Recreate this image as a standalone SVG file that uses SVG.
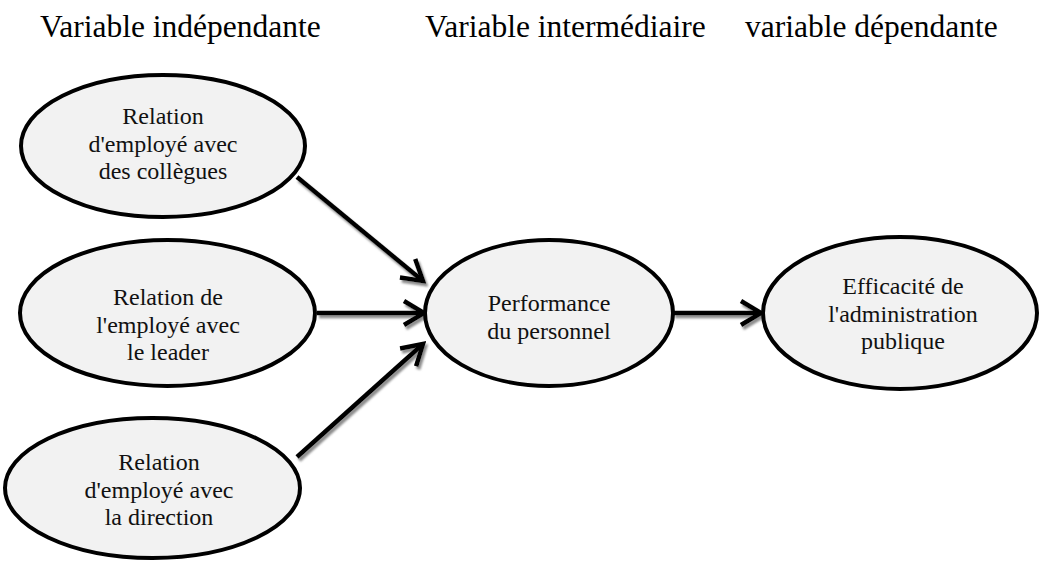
<svg xmlns="http://www.w3.org/2000/svg" width="1041" height="564" viewBox="0 0 1041 564" font-family="'Liberation Serif', serif">
<style>
text{font-family:'Liberation Serif', serif}
.title{font-size:31.5px;fill:#000}
.lbl{font-size:24px;fill:#111;text-anchor:middle}
.node ellipse{fill:#f2f2f2;stroke:#000;stroke-width:4}
.conn{fill:none;stroke:#000;stroke-width:4.5}
</style>
<defs>
<marker id="arr" markerUnits="userSpaceOnUse" viewBox="-24 -16 28 32" refX="0" refY="0" markerWidth="28" markerHeight="32" orient="auto">
<path d="M-20,-12 L0,0 L-20,12" fill="none" stroke="#000" stroke-width="4.5" stroke-linejoin="miter"/>
</marker>
<filter id="sh" x="-20%" y="-20%" width="140%" height="140%">
<feDropShadow dx="2" dy="3" stdDeviation="0.8" flood-color="#7f7f7f" flood-opacity="0.9"/>
</filter>
</defs>
<g id="titles">
<text class="title" font-family="Liberation Serif" x="40" y="37">Variable indépendante</text>
<text class="title" font-family="Liberation Serif" x="425" y="37">Variable intermédiaire</text>
<text class="title" font-family="Liberation Serif" x="745" y="37">variable dépendante</text>
</g>
<g id="connectors" filter="url(#sh)">
<path class="conn" d="M297,177 L423,281" marker-end="url(#arr)"/>
<path class="conn" d="M317,313 L424,313" marker-end="url(#arr)"/>
<path class="conn" d="M297,457 L423,344" marker-end="url(#arr)"/>
<path class="conn" d="M673,313 L761,313" marker-end="url(#arr)"/>
</g>
<g id="n1" class="node">
<ellipse cx="163" cy="146" rx="142" ry="71"/>
<text class="lbl" font-family="Liberation Serif" x="163" y="124">Relation</text>
<text class="lbl" font-family="Liberation Serif" x="163" y="151.5">d'employé avec</text>
<text class="lbl" font-family="Liberation Serif" x="163" y="179">des collègues</text>
</g>
<g id="n2" class="node">
<ellipse cx="167.5" cy="313" rx="147.5" ry="73"/>
<text class="lbl" font-family="Liberation Serif" x="168" y="305">Relation de</text>
<text class="lbl" font-family="Liberation Serif" x="168" y="332.5">l'employé avec</text>
<text class="lbl" font-family="Liberation Serif" x="168" y="360">le leader</text>
</g>
<g id="n3" class="node">
<ellipse cx="152.5" cy="488" rx="147.5" ry="70"/>
<text class="lbl" font-family="Liberation Serif" x="159" y="470">Relation</text>
<text class="lbl" font-family="Liberation Serif" x="159" y="497.5">d'employé avec</text>
<text class="lbl" font-family="Liberation Serif" x="159" y="525">la direction</text>
</g>
<g id="n4" class="node">
<ellipse cx="549" cy="313" rx="124" ry="73"/>
<text class="lbl" font-family="Liberation Serif" x="549" y="311">Performance</text>
<text class="lbl" font-family="Liberation Serif" x="549" y="338.5">du personnel</text>
</g>
<g id="n5" class="node">
<ellipse cx="900" cy="313" rx="137" ry="76"/>
<text class="lbl" font-family="Liberation Serif" x="903" y="294">Efficacité de</text>
<text class="lbl" font-family="Liberation Serif" x="903" y="321.5">l'administration</text>
<text class="lbl" font-family="Liberation Serif" x="903" y="349">publique</text>
</g>
</svg>
